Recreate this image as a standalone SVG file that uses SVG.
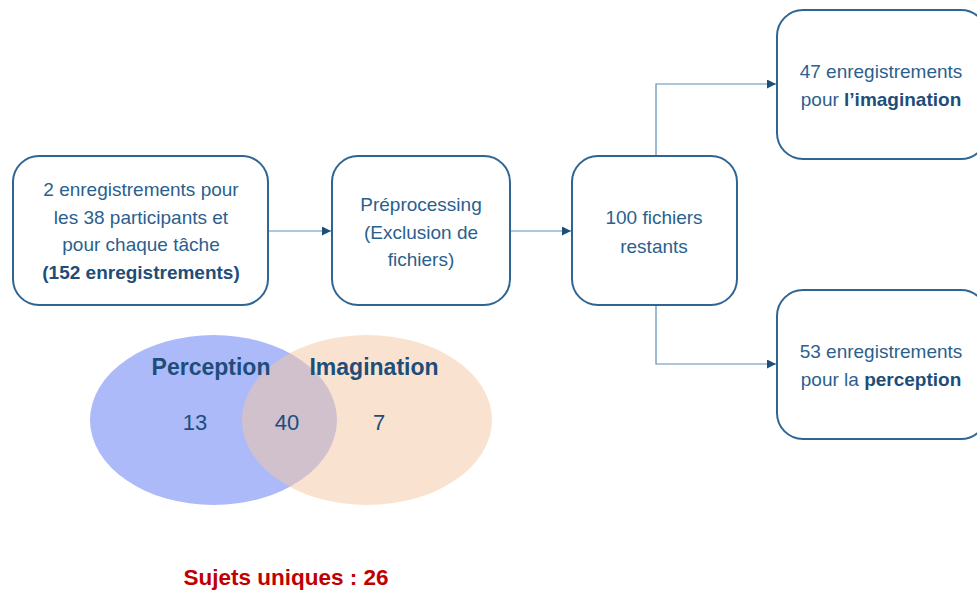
<svg xmlns="http://www.w3.org/2000/svg" width="977" height="594" viewBox="0 0 977 594">
  <style>
    .box { fill: #ffffff; stroke: #2F6592; stroke-width: 2; }
    .t { font-family: "Liberation Sans", Arial, sans-serif; font-size: 19px; fill: #2B5F8E; text-anchor: middle; }
    .b { font-weight: bold; fill: #1E4D7A; }
    .link { fill: none; stroke: #5B8DB8; stroke-width: 1.2; }
    .venn { font-family: "Liberation Sans", Arial, sans-serif; text-anchor: middle; fill: #1E4D7A; }
  </style>
  <defs>
    <marker id="arrow" viewBox="0 0 10 10" refX="10" refY="5" markerWidth="9" markerHeight="9" markerUnits="userSpaceOnUse" orient="auto">
      <path d="M0,0 L10,5 L0,10 z" fill="#1F4E79"/>
    </marker>
  </defs>

  <rect width="977" height="594" fill="#ffffff"/>

  <!-- connectors -->
  <g id="connectors">
    <path class="link" d="M268,231 H331" marker-end="url(#arrow)"/>
    <path class="link" d="M510,231 H571" marker-end="url(#arrow)"/>
    <path class="link" d="M656,156 V84 H776" marker-end="url(#arrow)"/>
    <path class="link" d="M656,305 V364 H776" marker-end="url(#arrow)"/>
  </g>

  <!-- flow nodes -->
  <g id="n-source">
    <rect class="box" x="13" y="156" width="255" height="149" rx="26"/>
    <text class="t" x="141" y="196">2 enregistrements pour</text>
    <text class="t" x="141" y="224">les 38 participants et</text>
    <text class="t" x="141" y="251">pour chaque tâche</text>
    <text class="t b" x="141" y="279">(152 enregistrements)</text>
  </g>

  <g id="n-preprocessing">
    <rect class="box" x="332" y="156" width="178" height="149" rx="26"/>
    <text class="t" x="421" y="211">Préprocessing</text>
    <text class="t" x="421" y="239">(Exclusion de</text>
    <text class="t" x="421" y="266">fichiers)</text>
  </g>

  <g id="n-remaining">
    <rect class="box" x="572" y="156" width="165" height="149" rx="26"/>
    <text class="t" x="654" y="224">100 fichiers</text>
    <text class="t" x="654" y="253">restants</text>
  </g>

  <g id="n-imagination">
    <rect class="box" x="777" y="10" width="210" height="149" rx="26"/>
    <text class="t" x="881" y="78">47 enregistrements</text>
    <text class="t" x="881" y="106">pour <tspan class="b">l’imagination</tspan></text>
  </g>

  <g id="n-perception">
    <rect class="box" x="777" y="290" width="210" height="149" rx="26"/>
    <text class="t" x="881" y="358">53 enregistrements</text>
    <text class="t" x="881" y="386">pour la <tspan class="b">perception</tspan></text>
  </g>

  <!-- subject overlap -->
  <g id="venn">
    <ellipse cx="213.5" cy="420" rx="123.5" ry="85" fill="#ACBAF9"/>
    <ellipse cx="367" cy="420" rx="125" ry="85" fill="#F4C7A2" fill-opacity="0.5"/>
    <text class="venn" x="211" y="375" font-size="23" font-weight="bold">Perception</text>
    <text class="venn" x="374" y="375" font-size="23" font-weight="bold">Imagination</text>
    <text class="venn" x="195" y="430" font-size="22" fill="#2B5F8E">13</text>
    <text class="venn" x="287" y="430" font-size="22" fill="#2B5F8E">40</text>
    <text class="venn" x="379" y="430" font-size="22" fill="#2B5F8E">7</text>
  </g>

  <text id="unique" x="286" y="585" font-family="Liberation Sans, Arial, sans-serif" font-size="22.5" font-weight="bold" fill="#C00000" text-anchor="middle">Sujets uniques : 26</text>
</svg>
